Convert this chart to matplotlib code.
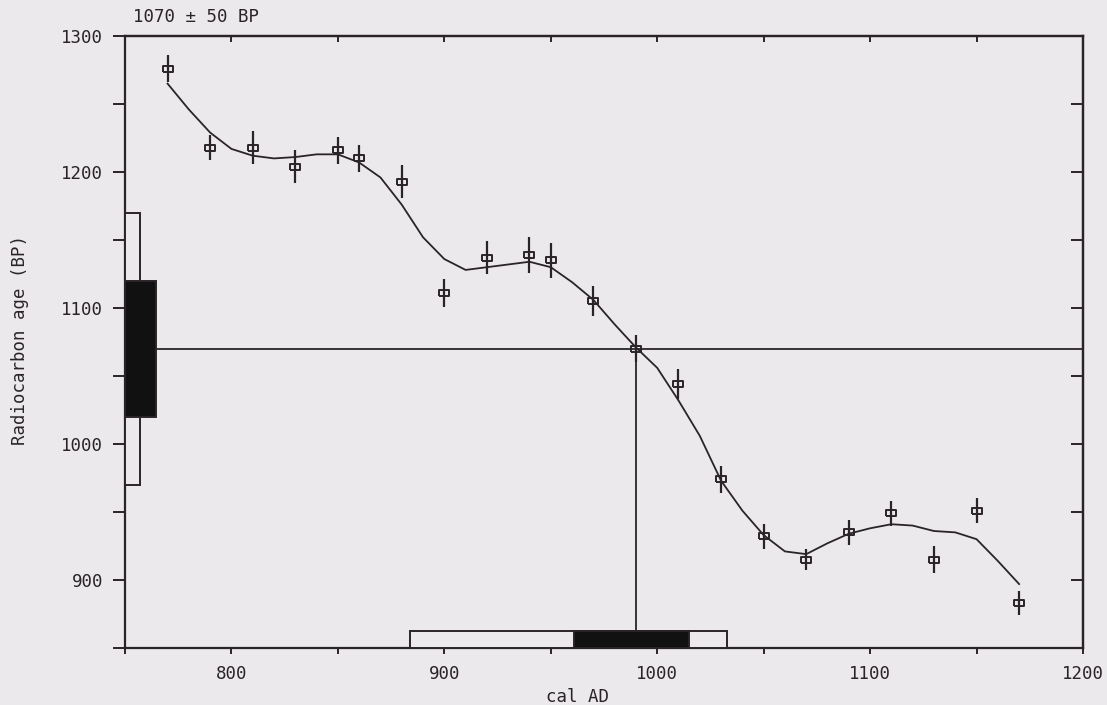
import matplotlib
matplotlib.use("Agg")
import matplotlib.pyplot as plt
from matplotlib.patches import Rectangle
from matplotlib.ticker import MultipleLocator

# measured calibration points (cal AD, BP, 1 sigma)
cal_ad = [770, 790, 810, 830, 850, 860, 880, 900, 920, 940, 950,
          970, 990, 1010, 1030, 1050, 1070, 1090, 1110, 1130, 1150, 1170]
bp = [1276, 1218, 1218, 1204, 1216, 1210, 1193, 1111, 1137, 1139, 1135,
      1105, 1070, 1044, 974, 932, 915, 935, 949, 915, 951, 883]
err = [10, 9, 12, 12, 10, 10, 12, 10, 12, 13, 13,
       11, 10, 11, 10, 9, 8, 9, 9, 10, 9, 9]

# smoothed calibration curve
curve_ad = [770, 780, 790, 800, 810, 820, 830, 840, 850, 860, 870,
            880, 890, 900, 910, 920, 930, 940, 950, 960, 970,
            980, 990, 1000, 1010, 1020, 1030, 1040, 1050, 1060, 1070,
            1080, 1090, 1100, 1110, 1120, 1130, 1140, 1150, 1160, 1170]
curve_bp = [1265, 1246, 1229, 1217, 1212, 1210, 1211, 1213, 1213, 1207, 1196,
            1176, 1152, 1136, 1128, 1130, 1132, 1134, 1130, 1119, 1106,
            1088, 1071, 1056, 1032, 1006, 973, 951, 933, 921, 919,
            927, 934, 938, 941, 940, 936, 935, 930, 914, 897]

# sample date and calibrated ranges
date_bp = 1070
date_err = 50
cal_point = 990
range_1s = (961, 1015)
range_2s = (884, 1033)

ink = "#2a2428"
paper = "#ebe9ec"

fig = plt.figure(figsize=(11.07, 7.05), dpi=100, facecolor=paper)
ax = fig.add_axes([0.1129, 0.0809, 0.8654, 0.868], facecolor=paper)
mono = "DejaVu Sans Mono"

ax.set_xlim(750, 1200)
ax.set_ylim(850, 1300)

# curve and data
ax.plot(curve_ad, curve_bp, color=ink, lw=1.3, zorder=3)
box = [(-1.6, -1), (1.6, -1), (1.6, 1), (-1.6, 1), (-1.6, -1)]
ax.errorbar(cal_ad, bp, yerr=err, fmt="none", ecolor=ink, elinewidth=1.6, zorder=4)
ax.plot(cal_ad, bp, ls="none", marker=box, ms=7.5, mfc="none", mec=ink, mew=1.4, zorder=5)

# left: radiocarbon date boxes (2 sigma white, 1 sigma black)
ytr = ax.get_yaxis_transform()
ax.add_patch(Rectangle((0, date_bp - 2 * date_err), 0.016, 4 * date_err,
                       transform=ytr, fc=paper, ec=ink, lw=1.4, zorder=6, clip_on=False))
ax.add_patch(Rectangle((0, date_bp - date_err), 0.032, 2 * date_err,
                       transform=ytr, fc="#111", ec=ink, lw=1.4, zorder=7, clip_on=False))

# bottom: calibrated ranges
xtr = ax.get_xaxis_transform()
bh = 0.027
ax.add_patch(Rectangle((range_2s[0], 0), range_2s[1] - range_2s[0], bh,
                       transform=xtr, fc=paper, ec=ink, lw=1.4, zorder=6))
ax.add_patch(Rectangle((range_1s[0], 0), range_1s[1] - range_1s[0], bh,
                       transform=xtr, fc="#111", ec=ink, lw=1.4, zorder=7))

# intercept lines
ax.axhline(date_bp, xmin=0.032, xmax=1, color=ink, lw=1.3, zorder=2)
ax.axvline(cal_point, ymin=bh, ymax=(date_bp - 850) / 450, color=ink, lw=1.3, zorder=2)

# ticks
ax.xaxis.set_major_locator(MultipleLocator(100))
ax.xaxis.set_minor_locator(MultipleLocator(50))
ax.yaxis.set_major_locator(MultipleLocator(100))
ax.yaxis.set_minor_locator(MultipleLocator(50))
ax.tick_params(axis="x", which="both", direction="out", length=4.5, width=1.4,
               color=ink, labelsize=12.5, labelcolor=ink, pad=8)
ax.tick_params(axis="y", which="both", direction="out", length=8.6, width=1.4,
               color=ink, labelsize=12.5, labelcolor=ink, pad=7)
ax.set_xticks([800, 900, 1000, 1100, 1200])
ax.set_yticks([900, 1000, 1100, 1200, 1300])
for lab in ax.get_xticklabels() + ax.get_yticklabels():
    lab.set_family(mono)

top = ax.secondary_xaxis("top")
top.xaxis.set_major_locator(MultipleLocator(50))
top.tick_params(direction="in", length=4.5, width=1.4, color=ink, labeltop=False)
right = ax.secondary_yaxis("right")
right.yaxis.set_major_locator(MultipleLocator(50))
right.tick_params(direction="in", length=8.6, width=1.4, color=ink, labelright=False)

for a in (ax, top, right):
    for s in a.spines.values():
        s.set_color(ink)
        s.set_linewidth(1.6)

fig.text(133 / 1107, 1 - 17 / 705, "1070 \u00b1 50 BP", family=mono, fontsize=12.5,
         color=ink, ha="left", va="center")
fig.text(577 / 1107, 1 - 697 / 705, "cal AD", family=mono, fontsize=12.5,
         color=ink, ha="center", va="center")
fig.text(20 / 1107, 1 - 340 / 705, "Radiocarbon age (BP)", family=mono, fontsize=12.5,
         color=ink, ha="center", va="center", rotation=90)

fig.savefig("out.png", dpi=100, facecolor=paper)
